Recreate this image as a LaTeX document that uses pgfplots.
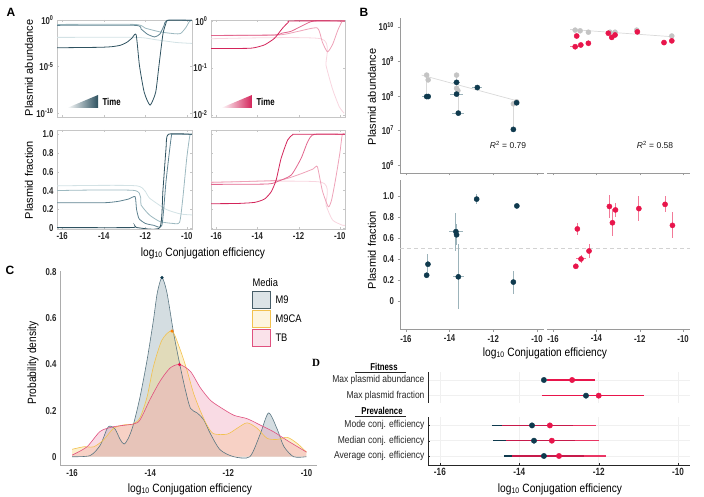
\documentclass[border=0pt]{standalone}
\usepackage{pgfplots}
\pgfplotsset{compat=1.18}
\usepackage{fontspec}
\setmainfont{Liberation Sans}
\newfontfamily\cond{Liberation Sans}[FakeStretch=0.85]
\newfontfamily\condb{Liberation Sans Bold}[FakeStretch=0.78]
\newfontfamily\serifb{Liberation Serif}
\definecolor{tealD}{HTML}{2E5260}
\definecolor{tealM}{HTML}{5E8290}
\definecolor{tealL}{HTML}{9DB9C0}
\definecolor{tealXL}{HTML}{D3E2E5}
\definecolor{pinkD}{HTML}{D3245A}
\definecolor{pinkM}{HTML}{E2668E}
\definecolor{pinkL}{HTML}{EEA2B8}
\definecolor{pinkXL}{HTML}{F8D5DF}
\definecolor{navy}{HTML}{0F3A4E}
\definecolor{crimson}{HTML}{E8154B}
\definecolor{ptgray}{HTML}{C4C4C4}
\definecolor{errNavy}{HTML}{9CB3BA}
\definecolor{errRed}{HTML}{F27A98}
\definecolor{m9e}{HTML}{5A7682}
\definecolor{m9f}{HTML}{8FA6B0}
\definecolor{caE}{HTML}{F2C14E}
\definecolor{caF}{HTML}{F6D77C}
\definecolor{tbE}{HTML}{E0517F}
\definecolor{tbF}{HTML}{F0A0B8}
\definecolor{axgray}{HTML}{9A9A9A}
\pgfplotsset{
 base/.style={scale only axis, anchor=south west,
   tick label style={font=\condb\fontsize{10}{11}\selectfont, text=black!85},
   /pgf/number format/assume math mode=true},
 Aax/.style={base, xmin=-16.25, xmax=-9.75, xtick={-16,-14,-12,-10}, xticklabels={},
   axis line style={gray!45, line width=0.4pt}, tick style={gray!45}, major tick length=2pt,
   tick align=inside,
   every axis plot/.append style={line width=0.8pt, smooth, tension=0.35, mark=none}},
 Bax/.style={base, axis line style={-, axgray, line width=0.7pt}, tick style={axgray}, major tick length=2.5pt,
   tick align=outside, xtick={-16,-14,-12,-10}},
}
\begin{document}
\begin{tikzpicture}
\path[use as bounding box] (0pt,0pt) rectangle (704pt,496pt);

% ================= A: top-left =================
\begin{axis}[Aax, at={(57pt,379pt)}, width=135pt, height=97pt, ymin=-10.45, ymax=0.03,
  ytick={-10,-5,0}, yticklabels={10\textsuperscript{-10},10\textsuperscript{-5},10\textsuperscript{0}}]
\addplot[tealXL] coordinates {(-16.25,-1.85) (-12.4,-1.85) (-11.5,-2.1) (-10.5,-2.4) (-9.75,-2.5)};
\addplot[tealL] coordinates {(-16.25,-0.45) (-12.5,-0.45) (-12.0,-0.85) (-11.3,-1.25) (-10.6,-1.45) (-10.3,-1.43) (-10.05,-0.8) (-9.88,-0.15) (-9.75,0)};
\addplot[tealM] coordinates {(-16.25,-0.55) (-12.5,-0.55) (-12.2,-0.95) (-11.9,-1.5) (-11.55,-1.8) (-11.3,-1.5) (-11.1,-0.6) (-10.95,0) (-9.75,0)};
\addplot[tealD] coordinates {(-16.25,-2.97) (-14.2,-2.92) (-13.6,-2.85) (-13.2,-2.7) (-12.9,-2.4) (-12.65,-1.95) (-12.44,-1.56) (-12.28,-4.89) (-12.05,-7.79) (-11.77,-9.17) (-11.5,-7.79) (-11.34,-4.89) (-11.15,-1.5) (-11.0,-0.3) (-10.9,0) (-9.75,0)};
\end{axis}

% ================= A: top-right =================
\begin{axis}[Aax, at={(211pt,379pt)}, width=134pt, height=97pt, ymin=-2.05, ymax=0.02,
  ytick={-2,-1,0}, yticklabels={10\textsuperscript{-2},10\textsuperscript{-1},10\textsuperscript{0}}]
\addplot[pinkXL] coordinates {(-16.25,-0.38) (-10.91,-0.38) (-10.67,-0.95) (-10.35,-1.46) (-10.03,-1.83) (-9.79,-1.97)};
\addplot[pinkL] coordinates {(-16.25,-0.31) (-13,-0.3) (-12,-0.22) (-11.09,-0.15) (-10.85,-0.45) (-10.6,-0.66) (-10.35,-0.5) (-10.1,-0.2) (-9.88,0) (-9.75,0)};
\addplot[pinkM] coordinates {(-16.25,-0.31) (-13.2,-0.3) (-12.8,-0.26) (-12.36,-0.22) (-11.72,-0.08) (-11.24,0) (-9.75,0)};
\addplot[pinkD] coordinates {(-16.25,-0.59) (-14.5,-0.585) (-14.13,-0.57) (-13.65,-0.51) (-13.17,-0.37) (-12.77,-0.15) (-12.5,-0.03) (-12.36,0) (-9.75,0)};
\end{axis}

% ================= A: bottom-left =================
\begin{axis}[Aax, at={(57pt,267pt)}, width=135pt, height=99pt, ymin=-0.01, ymax=1.046,
  ytick={0,0.2,0.4,0.6,0.8,1}, yticklabels={0,0.2,0.4,0.6,0.8,1.0}, xticklabels={-16,-14,-12,-10}]
\addplot[tealXL] coordinates {(-16.25,0.45) (-12.4,0.45) (-11.8,0.32) (-11,0.2) (-10.3,0.15) (-9.75,0.14)};
\addplot[tealL] coordinates {(-16.25,0.40) (-12.49,0.40) (-12.2,0.245) (-11.8,0.14) (-11.3,0.07) (-10.7,0.05) (-10.35,0.06) (-10.2,0.3) (-10.0,0.75) (-9.85,0.99) (-9.75,1)};
\addplot[tealM] coordinates {(-16.25,0.27) (-14,0.27) (-13.3,0.285) (-12.8,0.31) (-12.49,0.335) (-12.42,0.2) (-12.3,0.1) (-12.0,0.05) (-11.6,0.03) (-11.2,0.03) (-11.0,0.5) (-10.75,0.97) (-10.65,1.0) (-9.75,1)};
\addplot[tealD] coordinates {(-16.25,0.005) (-12.7,0.005) (-12.49,0.02) (-12.4,0.005) (-11.3,0.005) (-11.15,0.4) (-11.0,0.85) (-10.89,1.0) (-9.75,1.0)};
\end{axis}

% ================= A: bottom-right =================
\begin{axis}[Aax, at={(211pt,267pt)}, width=134pt, height=99pt, ymin=-0.01, ymax=1.046,
  ytick={0,0.2,0.4,0.6,0.8,1}, yticklabels={}, xticklabels={-16,-14,-12,-10}]
\addplot[pinkXL] coordinates {(-16.25,0.49) (-10.91,0.49) (-10.67,0.245) (-10.35,0.085) (-9.87,0.03) (-9.75,0.03)};
\addplot[pinkL] coordinates {(-16.25,0.487) (-13,0.51) (-12,0.57) (-11.3,0.63) (-11.09,0.654) (-10.85,0.4) (-10.56,0.227) (-10.4,0.3) (-10.2,0.53) (-10.0,0.8) (-9.88,1.0) (-9.75,1.0)};
\addplot[pinkM] coordinates {(-16.25,0.466) (-13.5,0.47) (-12.99,0.50) (-12.36,0.565) (-11.88,0.743) (-11.56,0.92) (-11.24,1.0) (-9.75,1)};
\addplot[pinkD] coordinates {(-16.25,0.26) (-15,0.262) (-14.13,0.274) (-13.65,0.31) (-13.33,0.387) (-13.09,0.512) (-12.85,0.743) (-12.53,0.94) (-12.29,0.995) (-12.13,1.0) (-9.75,1)};
\end{axis}

% time wedges
\shade[left color=white, right color=tealD] (67pt,388pt) -- (98pt,388pt) -- (98pt,401pt) -- cycle;
\node[anchor=west, font=\condb\fontsize{10}{11}\selectfont] at (99pt,394pt) {Time};
\shade[left color=white, right color=pinkD] (221pt,388pt) -- (252pt,388pt) -- (252pt,401pt) -- cycle;
\node[anchor=west, font=\condb\fontsize{10}{11}\selectfont] at (253pt,394pt) {Time};

\node[rotate=90, font=\fontsize{11}{12}\selectfont] at (29pt,428pt) {Plasmid abundance};
\node[rotate=90, font=\fontsize{11}{12}\selectfont] at (29pt,316pt) {Plasmid fraction};
\node[font=\cond\fontsize{12}{13}\selectfont] at (203pt,243pt) {log\textsubscript{10} Conjugation efficiency};

% ================= B: top-left =================
\begin{axis}[Bax, at={(400pt,323pt)}, width=143.5pt, height=155pt, xmin=-16.27, xmax=-9.70, ymin=5.77, ymax=10.25,
  axis x line*=bottom, axis y line*=left, xticklabels={},
  ytick={6,7,8,9,10}, yticklabels={10\textsuperscript{6},10\textsuperscript{7},10\textsuperscript{8},10\textsuperscript{9},10\textsuperscript{10}}]
\addplot[gray!30, line width=0.6pt] coordinates {(-15.05,8.60) (-15.05,7.98)};
\addplot[gray!30, line width=0.6pt] coordinates {(-13.68,8.60) (-13.68,8.05)};
\addplot[gray!30, line width=0.6pt] coordinates {(-13.62,8.15) (-13.62,7.50)};
\addplot[gray!30, line width=0.6pt] coordinates {(-11.08,7.77) (-11.08,7.03)};
\addplot[gray!30, line width=0.7pt] coordinates {(-15.28,8.60) (-10.93,7.86)};
\addplot[only marks, mark=*, mark size=2.5pt, ptgray] coordinates {(-15.05,8.60) (-14.98,8.46) (-13.68,8.60) (-13.68,8.22) (-13.62,8.15) (-11.08,7.77) (-10.93,7.83)};
\addplot[only marks, mark=*, mark size=2.6pt, navy, error bars/.cd, x dir=both, x explicit, error bar style={line width=1pt, errNavy}, error mark=none] coordinates {
(-15.05,7.98) +- (0.2,0) (-14.98,7.98) +- (0.1,0) (-13.68,8.39) +- (0.15,0) (-13.68,8.05) +- (0.3,0)
(-13.60,7.50) +- (0.27,0) (-12.73,8.24) +- (0.23,0) (-10.93,7.80) +- (0.05,0) (-11.08,7.03) +- (0.03,0)};
\end{axis}

% ================= B: top-right =================
\begin{axis}[Bax, at={(547pt,323pt)}, width=143pt, height=155pt, xmin=-16.28, xmax=-9.68, ymin=5.77, ymax=10.25,
  axis x line*=bottom, axis y line=none, xticklabels={}]
\addplot[gray!30, line width=0.7pt] coordinates {(-15.21,9.92) (-10.52,9.71)};
\addplot[only marks, mark=*, mark size=2.5pt, ptgray] coordinates {(-14.98,9.90) (-14.75,9.88) (-14.37,9.84) (-13.37,9.84) (-13.14,9.84) (-12.14,9.90) (-10.52,9.73)};
\addplot[only marks, mark=*, mark size=2.6pt, crimson, error bars/.cd, x dir=both, x explicit, error bar style={line width=1pt, errRed}, error mark=none] coordinates {
(-14.91,9.73) +- (0.05,0) (-14.98,9.42) +- (0.25,0) (-14.72,9.47) +- (0.05,0) (-14.37,9.52) +- (0.05,0)
(-13.45,9.81) +- (0.1,0) (-13.29,9.69) +- (0.05,0) (-13.14,9.76) +- (0.05,0) (-12.11,9.85) +- (0.05,0)
(-10.88,9.54) +- (0.05,0) (-10.52,9.59) +- (0.05,0)};
\end{axis}
\node[font=\fontsize{8.5}{9}\selectfont, text=gray!20!black] at (508pt,351pt) {\textit{R}\textsuperscript{2} = 0.79};
\node[font=\fontsize{8.5}{9}\selectfont, text=gray!20!black] at (655pt,351pt) {\textit{R}\textsuperscript{2} = 0.58};

% ================= B: bottom-left =================
\begin{axis}[Bax, at={(400pt,167pt)}, width=143.5pt, height=149pt, xmin=-16.27, xmax=-9.70, ymin=-0.267, ymax=1.152,
  axis x line*=bottom, axis y line*=left, xticklabels={-16,-14,-12,-10},
  ytick={0,0.2,0.4,0.6,0.8,1}, yticklabels={0,0.2,0.4,0.6,0.8,1.0}]
\addplot[gray!35, line width=0.7pt, dash pattern=on 4pt off 3pt] coordinates {(-16.27,0.5) (-9.70,0.5)};
\addplot[only marks, mark=*, mark size=2.6pt, navy, error bars/.cd, x dir=both, x explicit, y dir=both, y explicit, error bar style={line width=1pt, errNavy}, error mark=none] coordinates {
(-15.05,0.245) +- (0.12,0.01) (-14.99,0.35) +- (0.05,0.1) (-13.71,0.66) +- (0.33,0.18) (-13.68,0.63) +- (0.02,0.1)
(-13.60,0.23) +- (0.25,0.31) (-12.76,0.97) +- (0.1,0.05) (-10.92,0.905) +- (0.05,0.02) (-11.08,0.18) +- (0.02,0.11)};
\end{axis}

% ================= B: bottom-right =================
\begin{axis}[Bax, at={(547pt,167pt)}, width=143pt, height=149pt, xmin=-16.28, xmax=-9.68, ymin=-0.267, ymax=1.152,
  axis x line*=bottom, axis y line=none, xticklabels={-16,-14,-12,-10}]
\addplot[gray!35, line width=0.7pt, dash pattern=on 4pt off 3pt] coordinates {(-16.6,0.5) (-9.68,0.5)};
\addplot[only marks, mark=*, mark size=2.6pt, crimson, error bars/.cd, x dir=both, x explicit, y dir=both, y explicit, error bar style={line width=1pt, errRed}, error mark=none] coordinates {
(-14.95,0.33) +- (0.12,0.01) (-14.71,0.40) +- (0.25,0.04) (-14.34,0.476) +- (0.05,0.07) (-14.88,0.686) +- (0.05,0.055)
(-13.40,0.90) +- (0.12,0.11) (-13.26,0.745) +- (0.03,0.13) (-13.12,0.867) +- (0.03,0.07) (-12.04,0.88) +- (0.03,0.12)
(-10.83,0.92) +- (0.03,0.075) (-10.49,0.72) +- (0.03,0.125)};
\end{axis}
\node[rotate=90, font=\fontsize{11}{12}\selectfont] at (372pt,399pt) {Plasmid abundance};
\node[rotate=90, font=\fontsize{11}{12}\selectfont] at (372pt,246pt) {Plasmid fraction};
\node[font=\cond\fontsize{12}{13}\selectfont] at (545pt,143pt) {log\textsubscript{10} Conjugation efficiency};

% ================= C =================
\begin{axis}[Bax, at={(60pt,30.3pt)}, width=257pt, height=195pt, xmin=-16.31, xmax=-9.73, ymin=-0.039, ymax=0.807,
  axis x line*=bottom, axis y line*=left, axis line style={-, gray!65, line width=0.9pt}, major tick length=0pt,
  xticklabels={-16,-14,-12,-10}, ytick={0,0.2,0.4,0.6,0.8}, yticklabels={0,0.2,0.4,0.6,0.8},
  every axis plot/.append style={smooth, tension=0.45, line width=0.6pt}]
\pgfplotstableread{
x y
-16.0 0
-15.54 0.005
-15.28 0.05
-15.11 0.12
-15.03 0.133
-14.90 0.12
-14.77 0.075
-14.67 0.055
-14.56 0.08
-14.43 0.14
-14.26 0.26
-14.08 0.42
-13.92 0.59
-13.82 0.71
-13.70 0.777
-13.57 0.71
-13.40 0.535
-13.23 0.39
-13.10 0.29
-12.97 0.21
-12.80 0.19
-12.63 0.16
-12.46 0.10
-12.21 0.03
-11.86 0.0
-11.45 0.0
-11.18 0.10
-10.97 0.19
-10.75 0.12
-10.58 0.045
-10.33 0.0
-10.0 0
}\mnine
\pgfplotstableread{
x y
-16.0 0.032
-15.71 0.043
-15.45 0.043
-15.2 0.072
-14.94 0.123
-14.68 0.138
-14.43 0.142
-14.26 0.17
-14.08 0.26
-13.92 0.39
-13.70 0.506
-13.44 0.545
-13.23 0.463
-13.06 0.376
-12.89 0.275
-12.72 0.2
-12.55 0.138
-12.38 0.10
-12.03 0.098
-11.78 0.123
-11.52 0.147
-11.26 0.123
-11.01 0.08
-10.75 0.075
-10.49 0.084
-10.24 0.058
-10.0 0.02
}\mnineca
\pgfplotstableread{
x y
-16.0 0.007
-15.62 0.043
-15.28 0.11
-14.94 0.13
-14.43 0.142
-14.26 0.16
-14.0 0.25
-13.74 0.33
-13.49 0.385
-13.25 0.40
-12.97 0.37
-12.72 0.30
-12.46 0.245
-12.21 0.215
-11.86 0.18
-11.52 0.165
-11.18 0.137
-10.84 0.108
-10.49 0.07
-10.0 0.02
}\tb
\addplot[draw=none, fill=m9f, fill opacity=0.38] table {\mnine} \closedcycle;
\addplot[draw=none, fill=caF, fill opacity=0.38] table {\mnineca} \closedcycle;
\addplot[draw=none, fill=tbF, fill opacity=0.38] table {\tb} \closedcycle;
\addplot[m9e] table {\mnine};
\addplot[caE] table {\mnineca};
\addplot[tbE] table {\tb};
\addplot[only marks, mark=*, mark size=1.3pt, navy] coordinates {(-13.70,0.777)};
\addplot[only marks, mark=*, mark size=1.3pt, orange] coordinates {(-13.44,0.545)};
\addplot[only marks, mark=*, mark size=1.3pt, crimson] coordinates {(-13.25,0.40)};
\end{axis}
\node[rotate=90, font=\cond\fontsize{12}{13}\selectfont] at (33pt,133pt) {Probability density};
\node[font=\cond\fontsize{12}{13}\selectfont] at (190pt,7pt) {log\textsubscript{10} Conjugation efficiency};
% legend
\node[anchor=west, font=\cond\fontsize{11}{12}\selectfont] at (249pt,213pt) {Media};
\draw[m9e!80!black, line width=0.9pt, fill=m9f!30] (252pt,188pt) rectangle (270pt,205pt);
\draw[caE, line width=0.9pt, fill=caF!25] (252pt,169pt) rectangle (270pt,186pt);
\draw[tbE, line width=0.9pt, fill=tbF!30] (252pt,150pt) rectangle (270pt,167pt);
\node[anchor=west, font=\cond\fontsize{11}{12}\selectfont] at (272pt,196.5pt) {M9};
\node[anchor=west, font=\cond\fontsize{11}{12}\selectfont] at (272pt,177.5pt) {M9CA};
\node[anchor=west, font=\cond\fontsize{11}{12}\selectfont] at (272pt,158.5pt) {TB};

% ================= D =================
\begin{axis}[base, at={(428pt,93.3pt)}, width=262pt, height=31pt, xmin=-16.30, xmax=-9.70, ymin=0.55, ymax=2.53,
  axis x line*=bottom, axis y line*=left, x axis line style={draw opacity=0}, y axis line style={-, gray!30!black, line width=0.8pt},
  xtick={-16,-14,-12,-10}, xticklabels={}, ytick={1,2}, yticklabels={Max plasmid fraction, Max plasmid abundance},
  major tick length=0pt, xmajorgrids, ymajorgrids, grid style={gray!12, line width=0.5pt},
  yticklabel style={font=\cond\fontsize{10}{11}\selectfont}]
\addplot[crimson, line width=1.4pt] coordinates {(-13.30,2) (-12.10,2)};
\addplot[crimson, line width=1.4pt] coordinates {(-13.43,1) (-10.86,1)};
\addplot[only marks, mark=*, mark size=2.7pt, navy] coordinates {(-13.38,2) (-12.32,1)};
\addplot[only marks, mark=*, mark size=2.7pt, crimson] coordinates {(-12.67,2) (-12.0,1)};
\end{axis}
\begin{axis}[base, at={(428pt,31pt)}, width=262pt, height=48pt, xmin=-16.30, xmax=-9.70, ymin=0.41, ymax=3.55,
  axis x line*=bottom, axis y line*=left, axis line style={-, gray!30!black, line width=0.8pt},
  xtick={-16,-14,-12,-10}, xticklabels={-16,-14,-12,-10}, ytick={1,2,3},
  yticklabels={Average conj. efficiency, Median conj. efficiency, Mode conj. efficiency},
  major tick length=2pt, tick style={gray!30!black}, xmajorgrids, ymajorgrids, grid style={gray!12, line width=0.5pt},
  yticklabel style={font=\cond\fontsize{10}{11}\selectfont}, xticklabel style={font=\condb\fontsize{10.5}{11}\selectfont}]
\addplot[navy, line width=1.5pt] coordinates {(-14.69,3) (-12.65,3)};
\addplot[navy, line width=1.5pt] coordinates {(-14.66,2) (-12.60,2)};
\addplot[navy, line width=1.5pt] coordinates {(-14.39,1) (-12.37,1)};
\addplot[crimson, line width=1.3pt, opacity=0.85] coordinates {(-14.44,3) (-12.07,3)};
\addplot[crimson, line width=1.3pt, opacity=0.85] coordinates {(-14.34,2) (-12.00,2)};
\addplot[crimson, line width=1.3pt, opacity=0.85] coordinates {(-14.19,1) (-11.82,1)};
\addplot[only marks, mark=*, mark size=2.7pt, navy] coordinates {(-13.68,3) (-13.63,2) (-13.38,1)};
\addplot[only marks, mark=*, mark size=2.7pt, crimson] coordinates {(-13.23,3) (-13.18,2) (-13.0,1)};
\end{axis}
\node[font=\condb\fontsize{10}{11}\selectfont] at (384pt,129pt) {Fitness};
\draw[gray!30!black, line width=0.8pt] (355pt,123.5pt) -- (406pt,123.5pt);
\node[font=\condb\fontsize{10}{11}\selectfont] at (382pt,85pt) {Prevalence};
\draw[gray!30!black, line width=0.8pt] (355pt,80pt) -- (406pt,80pt);
\node[font=\cond\fontsize{12}{13}\selectfont] at (560pt,7pt) {log\textsubscript{10} Conjugation efficiency};

% panel letters
\node[anchor=north west, font=\bfseries\fontsize{12}{12}\selectfont] at (3pt,491pt) {A};
\node[anchor=north west, font=\bfseries\fontsize{12}{12}\selectfont] at (356pt,491pt) {B};
\node[font=\bfseries\fontsize{12}{12}\selectfont] at (10pt,226pt) {C};
\node[font=\serifb\bfseries\fontsize{11}{12}\selectfont] at (316pt,133pt) {D};
\end{tikzpicture}
\end{document}
